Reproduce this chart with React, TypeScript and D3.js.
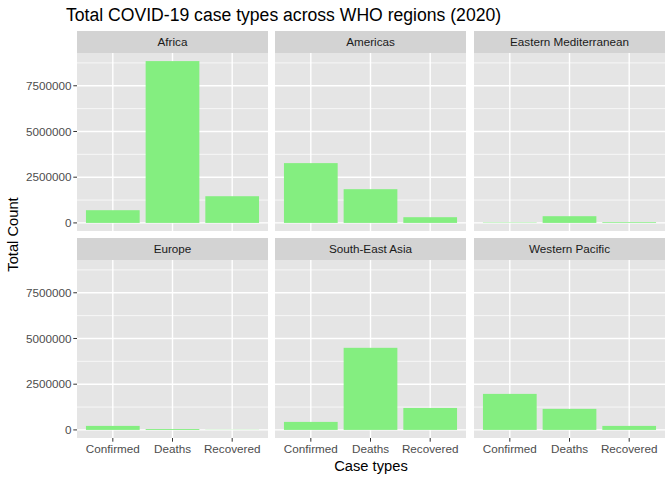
import React from "react";
import * as d3 from "d3";

const WIDTH = 672;
const HEIGHT = 480;

const regions = ["Africa", "Americas", "Eastern Mediterranean", "Europe", "South-East Asia", "Western Pacific"];
const caseTypes = ["Confirmed", "Deaths", "Recovered"];
// values per region, in caseTypes order
const confirmed = [695000, 3270000, 20000, 219000, 438000, 1970000];
const deaths = [8850000, 1845000, 367000, 50000, 4490000, 1150000];
const recovered = [1460000, 312000, 40000, 10000, 1200000, 219000];
const yTicks = [0, 2500000, 5000000, 7500000];

const FONT = "'Liberation Sans', Arial, Helvetica, sans-serif";
const BAR = "#84EE80";

// facet layout
const PANEL_X = [77, 275, 474];
const PANEL_W = 191;
const STRIP_Y = [31, 238];
const STRIP_H = 22;
const PANEL_H = 178;

export default function App() {
  const maxVal = d3.max([...confirmed, ...deaths, ...recovered]) as number;
  const y = d3
    .scaleLinear()
    .domain([-0.05 * maxVal, 1.05 * maxVal])
    .range([PANEL_H, 0]);
  const x = d3.scaleLinear().domain([0.4, caseTypes.length + 0.6]).range([0, PANEL_W]);
  const unit = x(1) - x(0);
  const minor = yTicks.map((t) => t + 1250000).filter((t) => t < 1.05 * maxVal);

  const values = (i: number) => [confirmed[i], deaths[i], recovered[i]];

  return (
    <svg width={WIDTH} height={HEIGHT} style={{ position: "absolute", left: 0, top: 0 }} fontFamily={FONT}>
      <rect width={WIDTH} height={HEIGHT} fill="#fff" />
      <text x={66} y={21} fontSize={17.6} fill="#000">
        Total COVID-19 case types across WHO regions (2020)
      </text>
      {regions.map((region, i) => {
        const col = i % 3;
        const row = Math.floor(i / 3);
        const px = PANEL_X[col];
        const sy = STRIP_Y[row];
        const py = sy + STRIP_H;
        return (
          <g key={region}>
            <rect x={px} y={sy} width={PANEL_W} height={STRIP_H} fill="#D3D3D3" />
            <text x={px + PANEL_W / 2} y={sy + STRIP_H / 2} dy="0.35em" textAnchor="middle" fontSize={11.7} fill="#1A1A1A">
              {region}
            </text>
            <g transform={`translate(${px},${py})`}>
              <rect width={PANEL_W} height={PANEL_H} fill="#E5E5E5" />
              {minor.map((t) => (
                <line key={"m" + t} x1={0} x2={PANEL_W} y1={y(t)} y2={y(t)} stroke="#fff" strokeWidth={0.7} />
              ))}
              {yTicks.map((t) => (
                <line key={"g" + t} x1={0} x2={PANEL_W} y1={y(t)} y2={y(t)} stroke="#fff" strokeWidth={1.4} />
              ))}
              {caseTypes.map((c, j) => (
                <line key={"v" + c} x1={x(j + 1)} x2={x(j + 1)} y1={0} y2={PANEL_H} stroke="#fff" strokeWidth={1.4} />
              ))}
              {values(i).map((v, j) => (
                <rect
                  key={caseTypes[j]}
                  x={x(j + 1) - 0.45 * unit}
                  width={0.9 * unit}
                  y={y(v)}
                  height={y(0) - y(v)}
                  fill={BAR}
                />
              ))}
              {col === 0 &&
                yTicks.map((t) => (
                  <g key={"yt" + t} transform={`translate(0,${y(t)})`}>
                    <line x1={-3.7} x2={0} stroke="#333" strokeWidth={1} />
                    <text x={-5.5} dy="0.35em" textAnchor="end" fontSize={11.7} fill="#4D4D4D">
                      {d3.format("d")(t)}
                    </text>
                  </g>
                ))}
              {row === 1 &&
                caseTypes.map((c, j) => (
                  <g key={"xt" + c} transform={`translate(${x(j + 1)},${PANEL_H})`}>
                    <line y1={0} y2={3.7} stroke="#333" strokeWidth={1} />
                    <text y={15} textAnchor="middle" fontSize={11.7} fill="#4D4D4D">
                      {c}
                    </text>
                  </g>
                ))}
            </g>
          </g>
        );
      })}
      <text x={(PANEL_X[0] + PANEL_X[2] + PANEL_W) / 2} y={471} textAnchor="middle" fontSize={14.7} fill="#000">
        Case types
      </text>
      <text
        transform={`translate(18,${(STRIP_Y[0] + STRIP_Y[1] + STRIP_H + PANEL_H) / 2}) rotate(-90)`}
        textAnchor="middle"
        fontSize={14.7}
        fill="#000"
      >
        Total Count
      </text>
    </svg>
  );
}
